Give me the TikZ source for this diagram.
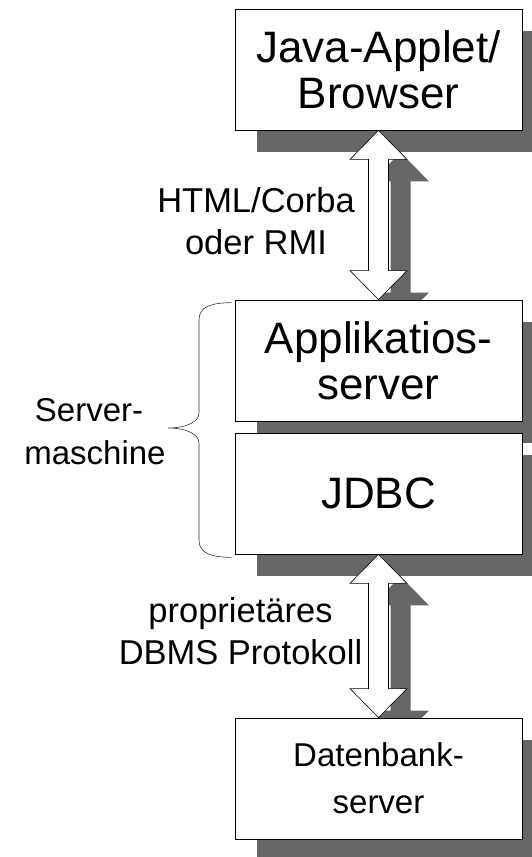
\documentclass[tikz,border=0pt]{standalone}
\usepackage{fontspec}
\setmainfont{Liberation Sans}
\usetikzlibrary{calc}
\definecolor{shadowcol}{RGB}{102,102,102}
\pgfdeclarelayer{shade}
\pgfdeclarelayer{arrows}
\pgfsetlayers{shade,arrows,main}
\tikzset{
  box/.style={draw=black, line width=0.8pt, fill=white, inner sep=0pt,
    minimum width=287pt, minimum height=121pt, align=center,
    font=\fontsize{44}{46}\selectfont},
  lbl/.style={align=center, inner sep=0pt, font=\fontsize{34.5}{42}\selectfont},
  blockarrow/.style={draw=black, line width=0.6pt, fill=white},
  blockshadow/.style={fill=shadowcol},
}
% double-headed block arrow from the bottom of #1 to the top of #2
\newcommand\dblarrow[3]{%
  \path[#3] (#1) -- ($(#1)+(28.5,29)$) -- ($(#1)+(10,29)$)
    -- ($(#2)+(10,-29)$) -- ($(#2)+(28.5,-29)$) -- (#2)
    -- ($(#2)+(-28.5,-29)$) -- ($(#2)+(-10,-29)$)
    -- ($(#1)+(-10,29)$) -- ($(#1)+(-28.5,29)$) -- cycle;}
\newcommand\boxshadow[1]{%
  \fill[shadowcol] ($(#1.north west)+(22,22)$) rectangle ($(#1.south east)+(22,22)$);}
\begin{document}
\begin{tikzpicture}[x=1pt,y=-1pt]
\useasboundingbox (0,0) rectangle (531,857);
\clip (0,0) rectangle (531,857);

% the four boxes
\node[box] (java) at (378.5,69.5) {Java-Applet/\\Browser};
\node[box] (app)  at (378.5,360.5) {Applikatios-\\server};
\node[box] (jdbc) at (378.5,493.5) {JDBC};
\node[box, font=\fontsize{33}{47}\selectfont] (db) at (378.5,778.5) {Datenbank-\\server};

% shadows below everything
\begin{pgfonlayer}{shade}
  \boxshadow{java}
  \boxshadow{app}
  \boxshadow{jdbc}
  \boxshadow{db}
  \coordinate (s1) at ($(java.south)+(22,22)$);
  \coordinate (s2) at ($(app.north)+(22,22)$);
  \coordinate (s3) at ($(jdbc.south)+(22,22)$);
  \coordinate (s4) at ($(db.north)+(22,22)$);
  \dblarrow{s1}{s2}{blockshadow}
  \dblarrow{s3}{s4}{blockshadow}
\end{pgfonlayer}

% connecting block arrows
\begin{pgfonlayer}{arrows}
  \dblarrow{java.south}{app.north}{blockarrow}
  \dblarrow{jdbc.south}{db.north}{blockarrow}
\end{pgfonlayer}

% arrow labels
\node[lbl] (l1) at (256,221.5) {HTML/Corba\\oder RMI};
\node[lbl] (l2) at (240.5,631.5) {proprietäres\\DBMS Protokoll};

% brace around the server machine
\coordinate (bt) at ($(app.north west)+(-3,3)$);
\coordinate (bb) at ($(jdbc.south west)+(-3,3)$);
\coordinate (tip) at (168,428);
\draw[black!80, line width=0.6pt]
  (bt) .. controls (212,303) and (199,306) .. (199,320)
  -- (199,413) .. controls (199,422) and (186,428) .. (tip)
  .. controls (186,428) and (199,434) .. (199,443)
  -- (199,540) .. controls (199,554) and (212,557) .. (bb);
\node[lbl, font=\fontsize{33}{43}\selectfont] (sm) at (95,431.5) {Server-\kern12pt\\maschine};
\end{tikzpicture}
\end{document}
